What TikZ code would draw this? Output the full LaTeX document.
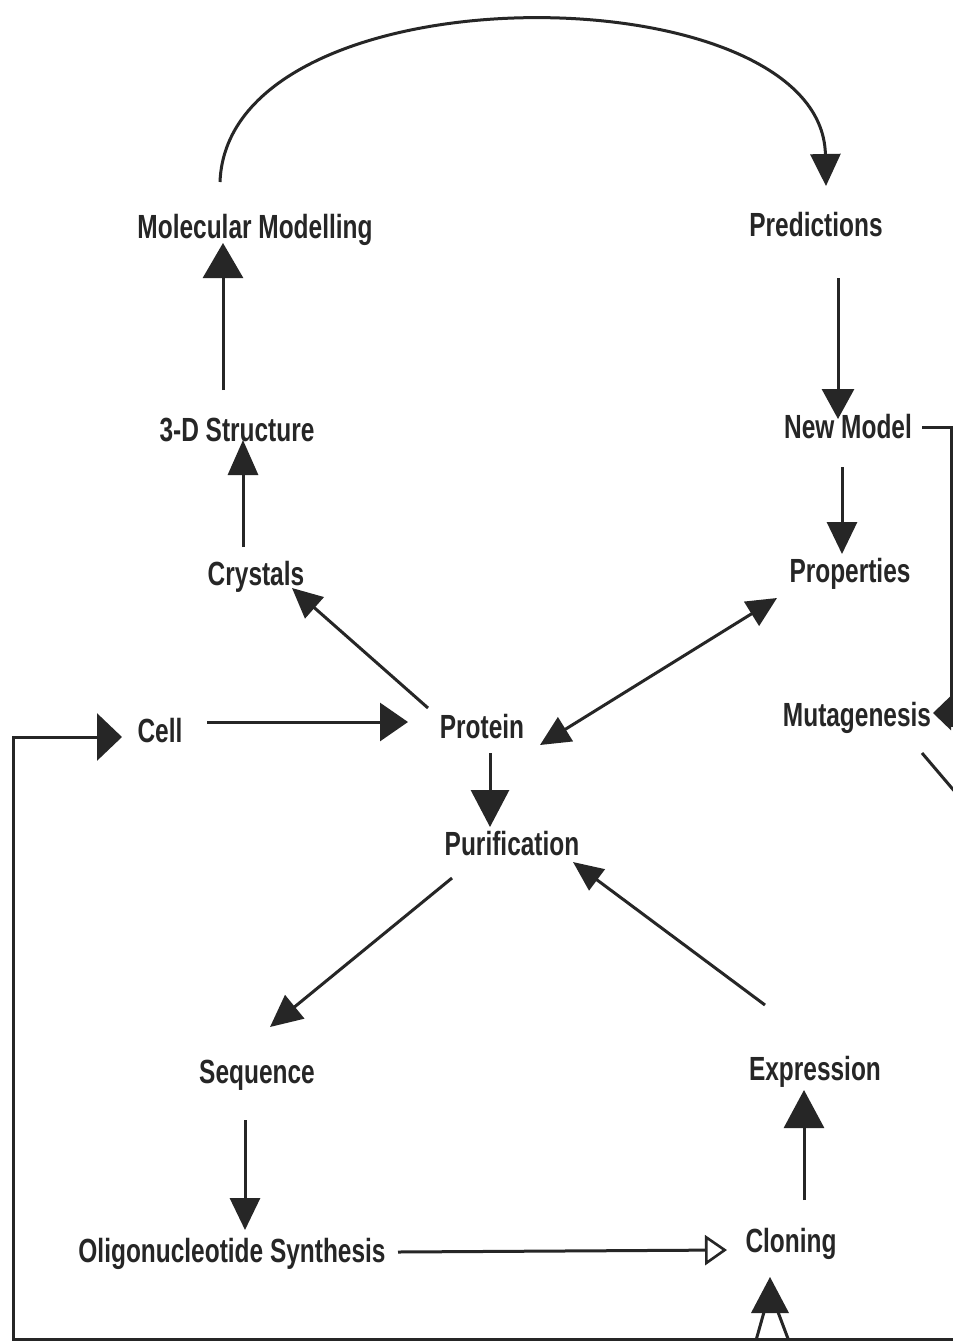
\documentclass[tikz,border=0pt]{standalone}
\usepackage{fontspec}
\setmainfont{Liberation Sans}[FakeStretch=0.73]
\usetikzlibrary{arrows.meta,calc}
\definecolor{ink}{HTML}{262626}
\tikzset{
  lbl/.style={anchor=base,inner sep=0pt,text=ink,font=\fontsize{16.75}{20}\selectfont\bfseries},
  conn/.style={draw=ink,line width=1.5pt},
  tip/.style 2 args={-{Triangle[length=#1,width=#2]}},
  otip/.style 2 args={-{Triangle[open,length=#1,width=#2,line width=1.3pt]}}
}
\begin{document}
\begin{tikzpicture}[x=0.5pt,y=-0.5pt]
\useasboundingbox[fill=white] (0,0) rectangle (953,1341);
% nodes
\node[lbl] (mm) at (255,238) {Molecular Modelling};
\node[lbl] (pr) at (816,236) {Predictions};
\node[lbl] (ds) at (237,441) {3-D Structure};
\node[lbl] (nm) at (848,438) {New Model};
\node[lbl] (cr) at (256,585) {Crystals};
\node[lbl] (pp) at (850,582) {Properties};
\node[lbl] (ce) at (160,742) {Cell};
\node[lbl] (pt) at (482,738) {Protein};
\node[lbl] (mu) at (857,726) {Mutagenesis};
\node[lbl] (pu) at (512,855) {Purification};
\node[lbl] (sq) at (257,1083) {Sequence};
\node[lbl] (ex) at (815,1080) {Expression};
\node[lbl] (ol) at (232,1262) {Oligonucleotide Synthesis};
\node[lbl] (cl) at (791,1252) {Cloning};
\coordinate (botL) at (13,1339);
\coordinate (botR) at (960,1339);
\coordinate (mutOut) at (962,800);
% connectors
\draw[conn,tip={16pt}{15pt}] ($(mm.base)+(-35,-56)$) .. controls +(8,-217) and +(-4,-216) .. ($(pr.base)+(10,-50)$);
\draw[conn,tip={15pt}{16pt}] ($(pr.base)+(22,42)$) -- ($(nm.base)+(-10,-19)$);
\draw[conn,tip={16pt}{15pt}] ($(nm.base)+(-6,29)$) -- ($(pp.base)+(-8,-28)$);
\draw[conn,tip={9pt}{17pt}] ($(nm.base)+(74,-11)$) -| ($(mu.base)+(94,-13)$) -- ($(mu.base)+(76,-13)$);
\draw[conn] ($(mu.base)+(94,-13)$) -- ($(mu.base)+(94,1)$);
\draw[conn] ($(mu.base)+(65,27)$) -- (mutOut);
\draw[conn,tip={17.5pt}{20pt}] ($(ds.base)+(-14,-51)$) -- ($(mm.base)+(-32,5)$);
\draw[conn,tip={17.5pt}{15pt}] ($(cr.base)+(-13,-38)$) -- ($(ds.base)+(6,-1)$);
\draw[conn,tip={15pt}{14pt}] ($(pt.base)+(-54,-30)$) -- ($(cr.base)+(36,3)$);
\draw[conn,{Triangle[length=15pt,width=14pt]}-{Triangle[length=15pt,width=14pt]}] ($(pt.base)+(58,7)$) -- ($(pp.base)+(-73,16)$);
\draw[conn,tip={14pt}{19pt}] ($(ce.base)+(47,-20)$) -- ($(pt.base)+(-74,-16)$);
\draw[conn,tip={12.5pt}{23.5pt}] (botR) -- (botL) |- ($(ce.base)+(-38,-5)$);
\draw[conn,tip={18.5pt}{19pt}] ($(pt.base)+(8,15)$) -- ($(pu.base)+(-22,-28)$);
\draw[conn,tip={16pt}{15pt}] ($(pu.base)+(-60,23)$) -- ($(sq.base)+(13,-56)$);
\draw[conn,tip={15pt}{13pt}] ($(ex.base)+(-50,-75)$) -- ($(pu.base)+(61,7)$);
\draw[conn,tip={16pt}{15pt}] ($(sq.base)+(-12,37)$) -- ($(ol.base)+(13,-32)$);
\draw[conn,otip={11pt}{15pt}] ($(ol.base)+(166,-10)$) -- ($(cl.base)+(-64,-2)$);
\draw[conn,tip={19pt}{20pt}] ($(cl.base)+(13,-52)$) -- ($(ex.base)+(-11,10)$);
% arrow entering Cloning from below
\draw[conn] ($(cl.base)+(-36,92)$) -- ($(cl.base)+(-27,60)$);
\draw[conn] ($(cl.base)+(-1,92)$) -- ($(cl.base)+(-13,60)$);
\fill[ink] ($(cl.base)+(-21,25)$) -- ($(cl.base)+(-40,61)$) -- ($(cl.base)+(-2,61)$) -- cycle;
\end{tikzpicture}
\end{document}
